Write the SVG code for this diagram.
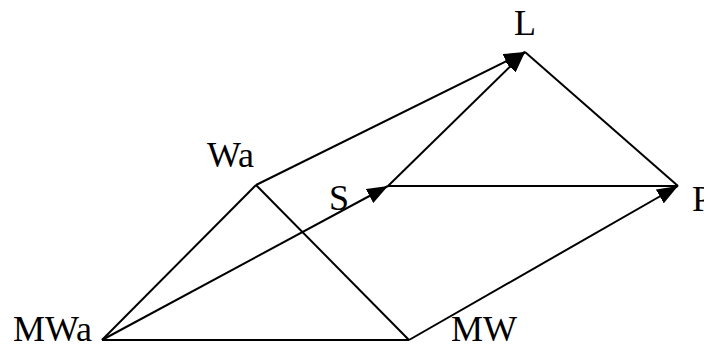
<svg xmlns="http://www.w3.org/2000/svg" width="704" height="344" viewBox="0 0 704 344">
<style>
.lbl{font-family:"Liberation Serif","Times New Roman",serif;font-size:36px;fill:#000}
.ln{stroke:#000;stroke-width:2;fill:none}
</style>
<defs>
<marker id="ah" markerUnits="userSpaceOnUse" markerWidth="22" markerHeight="16" refX="21" refY="8" orient="auto" viewBox="0 0 22 16">
<path d="M0,0 L21,8 L0,16 z" fill="#000"/>
</marker>
</defs>
<rect width="704" height="344" fill="#fff"/>
<g id="connectors">
<line class="ln" x1="102" y1="340" x2="409" y2="340"/>
<line class="ln" x1="102" y1="340" x2="256" y2="185"/>
<line class="ln" x1="256" y1="185" x2="409" y2="340"/>
<line class="ln" x1="102" y1="340" x2="388" y2="186" marker-end="url(#ah)"/>
<line class="ln" x1="409" y1="340" x2="678" y2="186" marker-end="url(#ah)"/>
<line class="ln" x1="256" y1="185" x2="525" y2="52" marker-end="url(#ah)"/>
<line class="ln" x1="388" y1="186" x2="525" y2="52" marker-end="url(#ah)"/>
<line class="ln" x1="388" y1="186" x2="678" y2="186"/>
<line class="ln" x1="525" y1="52" x2="678" y2="186"/>
</g>
<g id="MWa"><text class="lbl" x="13" y="341">MWa</text></g>
<g id="MW"><text class="lbl" x="451" y="341">MW</text></g>
<g id="Wa"><text class="lbl" x="207" y="167">Wa</text></g>
<g id="S"><text class="lbl" x="329" y="210">S</text></g>
<g id="L"><text class="lbl" x="514" y="35">L</text></g>
<g id="P"><text class="lbl" x="692" y="211">P</text></g>
</svg>
